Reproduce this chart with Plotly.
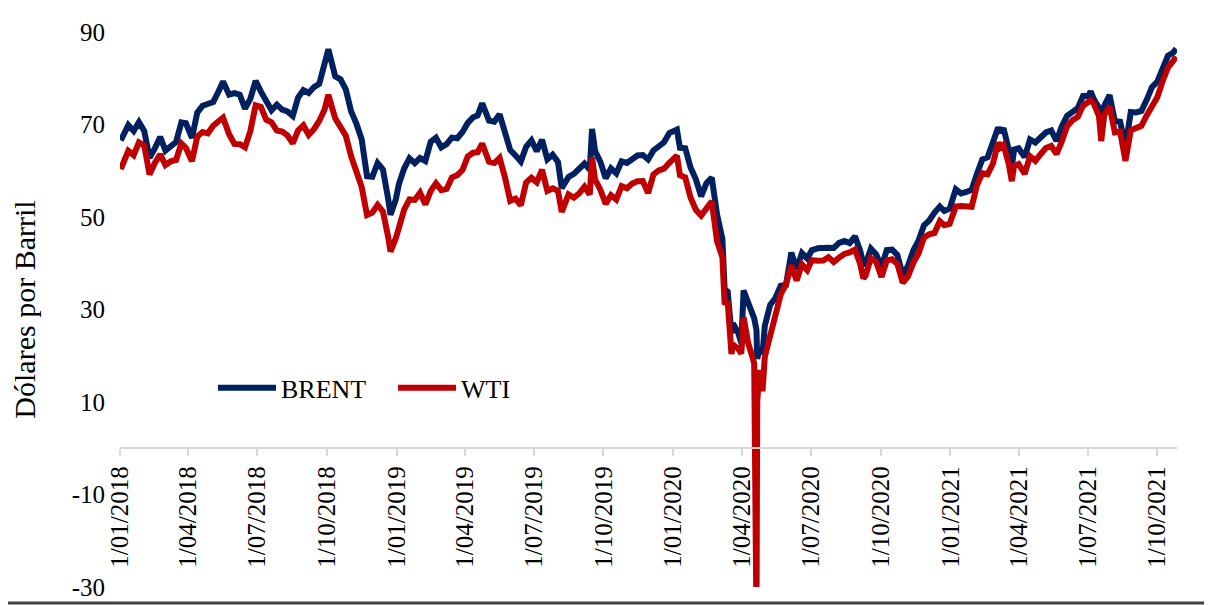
import plotly.graph_objects as go

# Weekly (plus a few key daily) closing prices, USD per barrel
dates = [
    # 2018
    "2018-01-02", "2018-01-05", "2018-01-12", "2018-01-19", "2018-01-26", "2018-02-02", "2018-02-09",
    "2018-02-16", "2018-02-23", "2018-03-02", "2018-03-09", "2018-03-16", "2018-03-23", "2018-03-29",
    "2018-04-06", "2018-04-13", "2018-04-20", "2018-04-27", "2018-05-04", "2018-05-11", "2018-05-17",
    "2018-05-25", "2018-06-01", "2018-06-08", "2018-06-15", "2018-06-22", "2018-06-29", "2018-07-06",
    "2018-07-13", "2018-07-20", "2018-07-27", "2018-08-03", "2018-08-10", "2018-08-17", "2018-08-24",
    "2018-08-31", "2018-09-07", "2018-09-14", "2018-09-21", "2018-09-28", "2018-10-03", "2018-10-12",
    "2018-10-19", "2018-10-26", "2018-11-02", "2018-11-09", "2018-11-16", "2018-11-23", "2018-11-30",
    "2018-12-07", "2018-12-14", "2018-12-21", "2018-12-24", "2018-12-31",
    # 2019
    "2019-01-04", "2019-01-11", "2019-01-18", "2019-01-25", "2019-02-01", "2019-02-08", "2019-02-15",
    "2019-02-22", "2019-03-01", "2019-03-08", "2019-03-15", "2019-03-22", "2019-03-29", "2019-04-05",
    "2019-04-12", "2019-04-18", "2019-04-24", "2019-05-03", "2019-05-10", "2019-05-17", "2019-05-24",
    "2019-05-31", "2019-06-07", "2019-06-14", "2019-06-21", "2019-06-28", "2019-07-05", "2019-07-12",
    "2019-07-19", "2019-07-26", "2019-08-02", "2019-08-07", "2019-08-16", "2019-08-23", "2019-08-30",
    "2019-09-06", "2019-09-13", "2019-09-16", "2019-09-20", "2019-09-27", "2019-10-04", "2019-10-11",
    "2019-10-18", "2019-10-25", "2019-11-01", "2019-11-08", "2019-11-15", "2019-11-22", "2019-11-29",
    "2019-12-06", "2019-12-13", "2019-12-20", "2019-12-27",
    # 2020
    "2020-01-03", "2020-01-06", "2020-01-10", "2020-01-17", "2020-01-24", "2020-01-31", "2020-02-07",
    "2020-02-14", "2020-02-21", "2020-02-28", "2020-03-06", "2020-03-09", "2020-03-13", "2020-03-18",
    "2020-03-20", "2020-03-27", "2020-03-31", "2020-04-03", "2020-04-09", "2020-04-14", "2020-04-17",
    "2020-04-20", "2020-04-21", "2020-04-24", "2020-04-28", "2020-05-01", "2020-05-08", "2020-05-15",
    "2020-05-22", "2020-05-29", "2020-06-05", "2020-06-12", "2020-06-19", "2020-06-26", "2020-07-02",
    "2020-07-10", "2020-07-17", "2020-07-24", "2020-07-31", "2020-08-07", "2020-08-14", "2020-08-21",
    "2020-08-28", "2020-09-04", "2020-09-08", "2020-09-11", "2020-09-18", "2020-09-25", "2020-10-02",
    "2020-10-09", "2020-10-16", "2020-10-23", "2020-10-30", "2020-11-06", "2020-11-13", "2020-11-20",
    "2020-11-27", "2020-12-04", "2020-12-11", "2020-12-18", "2020-12-24", "2020-12-31",
    # 2021
    "2021-01-08", "2021-01-15", "2021-01-22", "2021-01-29", "2021-02-05", "2021-02-12", "2021-02-19",
    "2021-02-26", "2021-03-05", "2021-03-08", "2021-03-12", "2021-03-19", "2021-03-23", "2021-03-26",
    "2021-04-01", "2021-04-09", "2021-04-16", "2021-04-23", "2021-04-30", "2021-05-07", "2021-05-14",
    "2021-05-21", "2021-05-28", "2021-06-04", "2021-06-11", "2021-06-18", "2021-06-25", "2021-07-02",
    "2021-07-05", "2021-07-09", "2021-07-16", "2021-07-19", "2021-07-23", "2021-07-30", "2021-08-06",
    "2021-08-13", "2021-08-20", "2021-08-27", "2021-09-03", "2021-09-10", "2021-09-17", "2021-09-24",
    "2021-10-01", "2021-10-08", "2021-10-15", "2021-10-22", "2021-10-26",
]

brent = [
    # 2018
    66.57, 67.62, 69.87, 68.61, 70.52, 68.58, 62.79,
    64.84, 67.31, 64.37, 65.49, 66.21, 70.45, 70.27,
    67.11, 72.58, 74.06, 74.64, 74.87, 77.12, 79.30,
    76.44, 76.79, 76.46, 73.44, 75.55, 79.44, 77.11,
    75.33, 73.07, 74.29, 73.21, 72.81, 71.83, 75.82,
    77.42, 76.83, 78.09, 78.80, 82.72, 86.29, 80.43,
    79.78, 77.62, 72.83, 70.18, 66.76, 58.80, 58.71,
    61.67, 60.28, 53.82, 50.47, 53.80,
    # 2019
    57.06, 60.48, 62.70, 61.64, 62.75, 62.10, 66.25,
    67.12, 65.07, 65.74, 67.16, 67.03, 68.39, 70.34,
    71.55, 71.97, 74.57, 70.85, 70.62, 72.21, 68.69,
    64.49, 63.29, 62.01, 65.20, 66.55, 64.23, 66.72,
    62.47, 63.46, 61.89, 56.23, 58.64, 59.34, 60.43,
    61.54, 60.22, 69.02, 64.28, 61.91, 58.37, 60.51,
    59.42, 62.02, 61.69, 62.51, 63.30, 63.39, 62.43,
    64.39, 65.22, 66.14, 68.16,
    # 2020
    68.60, 68.91, 64.98, 64.85, 60.69, 58.16, 54.47,
    57.32, 58.50, 50.52, 45.27, 34.36, 33.85, 24.88,
    26.98, 24.93, 22.74, 34.11, 31.48, 29.60, 28.08,
    25.57, 19.33, 21.44, 20.46, 26.44, 30.97, 32.50,
    35.13, 35.33, 42.30, 38.73, 42.19, 41.02, 42.80,
    43.24, 43.14, 43.34, 43.30, 44.40, 44.80, 44.35,
    45.81, 42.66, 39.78, 39.83, 43.15, 41.92, 39.27,
    42.85, 42.93, 41.77, 37.46, 39.45, 42.78, 44.96,
    48.18, 49.25, 50.97, 52.26, 51.29, 51.80,
    # 2021
    55.99, 55.10, 55.41, 55.88, 59.34, 62.43, 62.91,
    66.13, 69.36, 68.24, 69.22, 64.53, 60.79, 64.57,
    64.86, 62.95, 66.77, 66.11, 67.25, 68.28, 68.71,
    66.44, 69.63, 71.89, 72.69, 73.51, 76.18, 76.17,
    77.16, 75.55, 73.59, 68.62, 74.10, 76.33, 70.70,
    70.59, 65.18, 72.70, 72.61, 72.92, 75.34, 78.09,
    79.28, 82.39, 84.86, 85.53, 86.40,
]

wti = [
    # 2018
    60.37, 61.44, 64.30, 63.37, 66.14, 65.45, 59.20,
    61.68, 63.55, 61.25, 62.04, 62.34, 65.88, 64.94,
    62.06, 67.39, 68.38, 68.10, 69.72, 70.70, 71.49,
    67.88, 65.81, 65.74, 65.06, 68.58, 74.15, 73.80,
    71.01, 70.46, 68.69, 68.49, 67.63, 65.91, 68.72,
    69.80, 67.75, 68.99, 70.78, 73.25, 76.41, 71.34,
    69.12, 67.59, 63.14, 60.19, 56.46, 50.42, 50.93,
    52.61, 51.20, 45.59, 42.53, 45.41,
    # 2019
    47.96, 51.59, 53.80, 53.69, 55.26, 52.72, 55.59,
    57.26, 55.80, 56.07, 58.52, 59.04, 60.14, 63.08,
    63.89, 64.00, 65.89, 61.94, 61.66, 62.76, 58.63,
    53.50, 53.99, 52.51, 57.43, 58.47, 57.51, 60.21,
    55.63, 56.20, 55.66, 51.09, 54.87, 54.17, 55.10,
    56.52, 54.85, 62.90, 58.09, 55.91, 52.81, 54.70,
    53.78, 56.66, 56.20, 57.24, 57.72, 57.77, 55.17,
    59.20, 60.07, 60.44, 61.72,
    # 2020
    63.05, 63.27, 59.04, 58.54, 54.19, 51.56, 50.32,
    52.05, 53.38, 44.76, 41.28, 31.13, 31.73, 20.37,
    22.43, 21.51, 20.48, 28.34, 22.76, 20.11, 18.27,
    -37.63, 10.01, 16.94, 12.34, 19.78, 24.74, 29.43,
    33.25, 35.49, 39.55, 36.26, 39.75, 38.49, 40.65,
    40.55, 40.59, 41.29, 40.27, 41.22, 42.01, 42.34,
    42.97, 39.77, 36.76, 37.33, 41.11, 40.25, 37.05,
    40.60, 40.88, 39.85, 35.79, 37.14, 40.13, 42.15,
    45.53, 46.26, 46.57, 49.10, 48.23, 48.52,
    # 2021
    52.24, 52.36, 52.27, 52.20, 56.85, 59.47, 59.24,
    61.50, 66.09, 65.05, 65.61, 61.42, 57.76, 60.97,
    61.45, 59.32, 63.13, 62.14, 63.58, 64.90, 65.37,
    63.58, 66.32, 69.62, 70.91, 71.64, 74.05, 75.16,
    75.23, 74.56, 71.81, 66.42, 72.07, 73.95, 68.28,
    68.44, 62.14, 68.74, 69.29, 69.72, 71.97, 73.98,
    75.88, 79.35, 82.28, 83.76, 84.65,
]

series_names = ["BRENT", "WTI"]
series_colors = ["#002060", "#C00000"]

y_tick_vals = [-30, -10, 10, 30, 50, 70, 90]
y_tick_text = ["-30", "-10", "10", "30", "50", "70", "90"]

FONT = "Liberation Serif"

fig = go.Figure()
for name, vals, col in zip(series_names, [brent, wti], series_colors):
    fig.add_trace(go.Scatter(
        x=dates, y=vals, name=name, mode="lines",
        line=dict(color=col, width=6),
    ))

y_min, y_max = -30, 90
zero_pos = (0 - y_min) / (y_max - y_min)
PLOT_W, PLOT_H = 1057, 555

fig.update_layout(
    width=1212, height=605,
    margin=dict(l=112, r=43, t=24, b=26),
    paper_bgcolor="white", plot_bgcolor="white",
    font=dict(family=FONT, color="black", size=25),
    showlegend=True,
    legend=dict(
        orientation="h", x=0.088, y=0.359, xanchor="left", yanchor="middle",
        font=dict(family=FONT, size=26, color="black"),
        bgcolor="rgba(0,0,0,0)", entrywidth=107, itemwidth=58,
    ),
    xaxis=dict(
        type="date",
        range=["2018-01-01", "2021-10-27"],
        tick0="2018-01-01", dtick="M3",
        tickformat="%-d/%m/%Y", tickangle=-90,
        anchor="free", position=zero_pos, automargin=False,
        showline=True, linecolor="#d9d9d9", linewidth=2,
        ticks="outside", ticklen=7, tickwidth=2, tickcolor="#d9d9d9",
        showgrid=False, zeroline=False,
        tickfont=dict(family=FONT, size=25, color="black"),
    ),
    yaxis=dict(
        range=[y_min, y_max], automargin=False,
        tickmode="array", tickvals=y_tick_vals, ticktext=y_tick_text,
        showgrid=False, zeroline=False, showline=False, ticks="",
        ticklabelstandoff=14,
        tickfont=dict(family=FONT, size=25, color="black"),
        title=dict(text="Dólares por Barril", font=dict(family=FONT, size=30, color="black"), standoff=27),
    ),
    shapes=[dict(
        type="line", xref="paper", yref="paper",
        x0=-130 / PLOT_W, x1=1100 / PLOT_W, y0=-16 / PLOT_H, y1=-16 / PLOT_H,
        line=dict(color="#404040", width=3),
    )],
)

fig.write_html("out.html")
